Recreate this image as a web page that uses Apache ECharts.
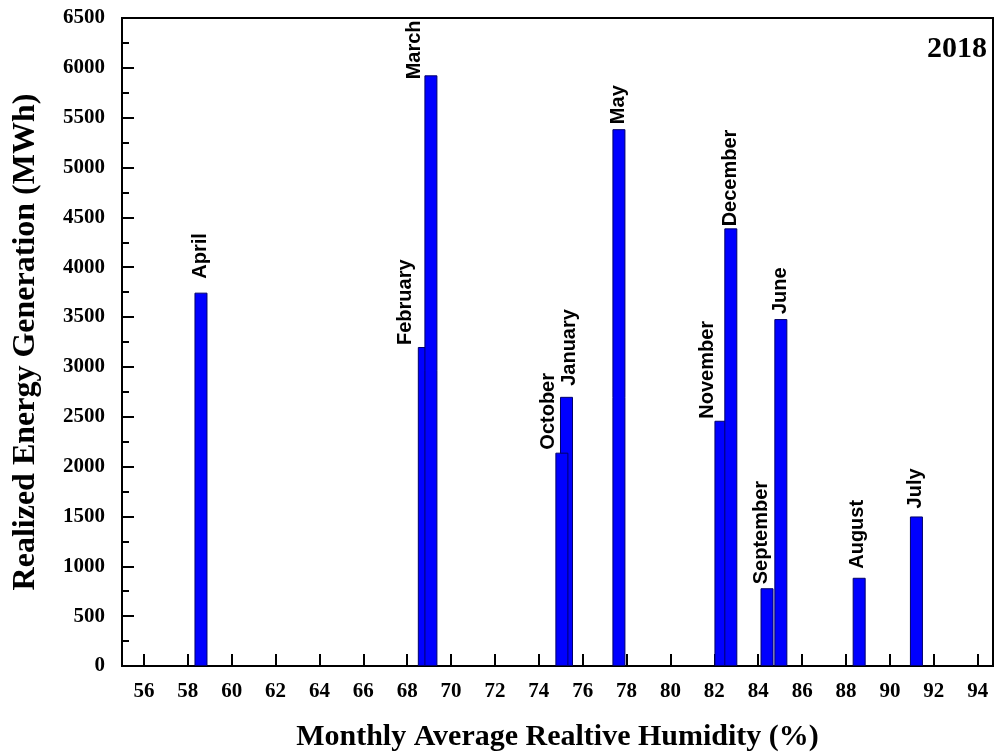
<!DOCTYPE html>
<html>
<head>
<meta charset="utf-8">
<script src="https://cdn.jsdelivr.net/npm/echarts@6/dist/echarts.min.js"></script>
<style>
html,body{margin:0;padding:0;background:#fff;}
#chart{width:995px;height:753px;}
</style>
</head>
<body>
<div id="chart"></div>
<script>
// ---- data (drawing order: later items lie on top) ----
var months   = ['April','February','March','January','October','May','November','December','September','June','August','July'];
var humidity = [58.6, 68.78, 69.08, 75.26, 75.05, 77.65, 82.3, 82.75, 84.4, 85.03, 88.6, 91.21];
var energy   = [3745, 3200, 5925, 2700, 2140, 5385, 2460, 4390, 780, 3480, 885, 1500];
var xTicks   = [56,58,60,62,64,66,68,70,72,74,76,78,80,82,84,86,88,90,92,94];
var yearText = '2018';

// label nudges in screen px [dx, dy], style only
var labelNudge = {
  'April':[0,-10],'February':[-19,2],'March':[-16,8],'January':[3,-7],'October':[-13,1],
  'May':[0,-1],'November':[-13,2],'December':[0,2],'September':[-6,0],'June':[0,-1],
  'August':[-2,-5],'July':[-1,-4]
};

var serif = '"Liberation Serif","Times New Roman",serif';
var sans  = '"Liberation Sans",Arial,sans-serif';

var seriesData = months.map(function(m,i){
  var n = labelNudge[m] || [0,0];
  // label is rotated 90deg: local x = screen up, local y = screen right
  return {
    value:[humidity[i], energy[i]],
    name:m,
    label:{offset:[-n[1], n[0]]}
  };
});

var chart = echarts.init(document.getElementById('chart'), null, {renderer:'canvas'});
chart.setOption({
  animation:false,
  backgroundColor:'#fff',
  grid:{left:122, right:2, top:18, bottom:87, show:true, borderColor:'#000', borderWidth:2,
        containLabel:false, outerBoundsMode:'none'},
  xAxis:{
    type:'value', min:55, max:94.7,
    name:'Monthly Average Realtive Humidity (%)',
    nameLocation:'middle', nameGap:56,
    nameTextStyle:{fontFamily:serif, fontWeight:'bold', fontSize:30, color:'#000', verticalAlign:'top'},
    axisLine:{show:true, onZero:false, lineStyle:{color:'#000', width:2}},
    axisTick:{show:true, inside:true, length:12, lineStyle:{color:'#000', width:2}, customValues:xTicks},
    axisLabel:{show:true, margin:15, fontFamily:serif, fontWeight:'bold', fontSize:21, color:'#000', customValues:xTicks},
    splitLine:{show:false}
  },
  yAxis:{
    type:'value', min:0, max:6500, interval:500,
    name:'Realized Energy Generation (MWh)',
    nameLocation:'middle', nameGap:80,
    nameTextStyle:{fontFamily:serif, fontWeight:'bold', fontSize:32, color:'#000'},
    axisLine:{show:true, onZero:false, lineStyle:{color:'#000', width:2}},
    axisTick:{show:true, inside:true, length:12, lineStyle:{color:'#000', width:2}},
    minorTick:{show:true, splitNumber:2, length:7, lineStyle:{color:'#000', width:2}},
    axisLabel:{show:true, margin:17, fontFamily:serif, fontWeight:'bold', fontSize:21, color:'#000',
      formatter:function(v){return String(v);}},
    splitLine:{show:false}
  },
  graphic:[{
    type:'text', right:8, top:34,
    style:{text:yearText, font:'bold 30px '+serif, fill:'#000'}
  }],
  series:[{
    type:'bar',
    barWidth:13,
    data:seriesData,
    itemStyle:{color:'#0000ff', borderColor:'#00006a', borderWidth:1},
    label:{
      show:true, position:'top', rotate:90, align:'left', verticalAlign:'middle', distance:4,
      fontFamily:sans, fontWeight:'bold', fontSize:20, color:'#000',
      formatter:function(p){return p.name;}
    }
  }]
});
</script>
</body>
</html>
